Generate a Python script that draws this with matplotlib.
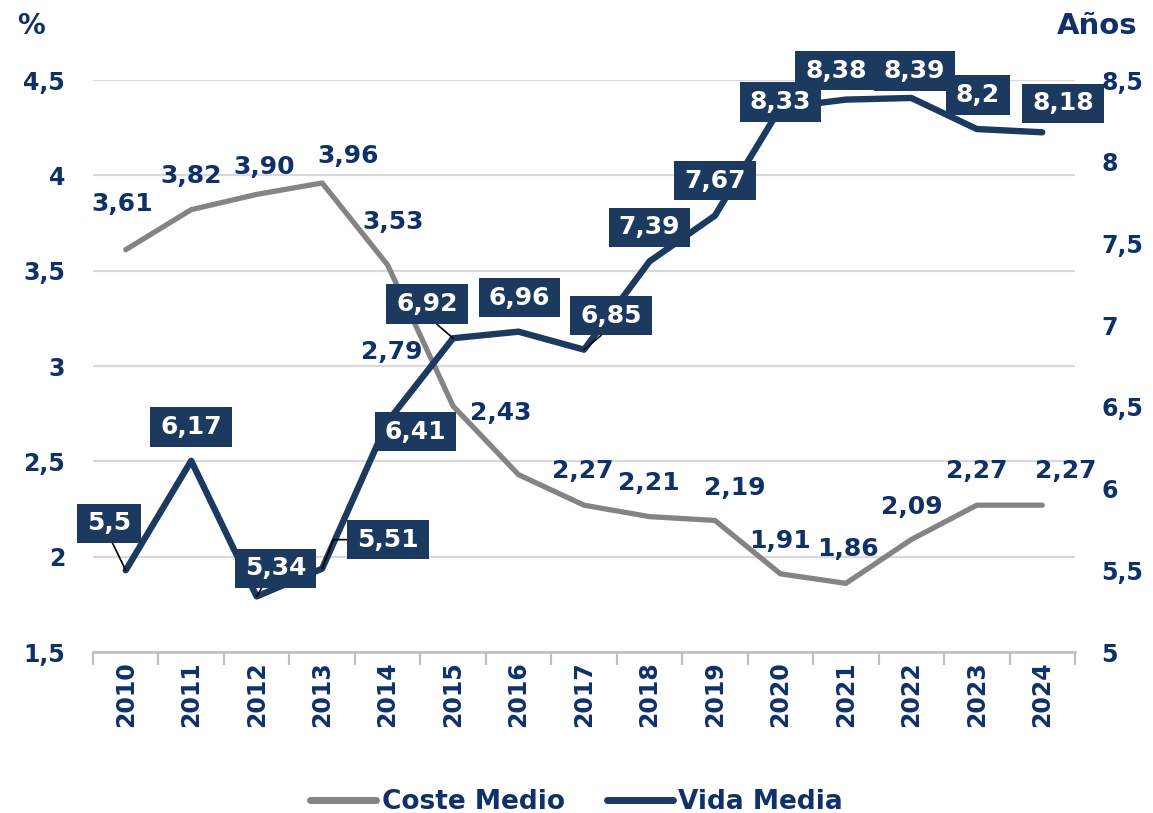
import matplotlib
matplotlib.use("Agg")
import matplotlib.pyplot as plt
from matplotlib.ticker import FuncFormatter, MultipleLocator
from matplotlib.lines import Line2D
from matplotlib.path import Path

# --- data -------------------------------------------------------------
years = ["2010", "2011", "2012", "2013", "2014", "2015", "2016", "2017",
         "2018", "2019", "2020", "2021", "2022", "2023", "2024"]
coste_medio = [3.61, 3.82, 3.90, 3.96, 3.53, 2.79, 2.43, 2.27,
               2.21, 2.19, 1.91, 1.86, 2.09, 2.27, 2.27]
vida_media = [5.5, 6.17, 5.34, 5.51, 6.41, 6.92, 6.96, 6.85,
              7.39, 7.67, 8.33, 8.38, 8.39, 8.2, 8.18]
series_names = ["Coste Medio", "Vida Media"]
left_unit = "%"
right_unit = "Años"

# --- style --------------------------------------------------------------
NAVY_TEXT = "#10306A"
NAVY_LINE = "#1C3A60"
NAVY_BOX = "#1C3A60"
GREY_LINE = "#848484"
GRID = "#D9D9D9"
AXIS = "#BFBFBF"
FONT = "DejaVu Sans"

plt.rcParams["font.family"] = [FONT]
plt.rcParams["font.weight"] = "bold"

# label offsets in pixels (dx, dy) relative to each point
coste_offsets = [(-4, 46), (0, 34), (8, 27), (26, 27), (6, 43), (-61, 54),
                 (-18, 62), (-1, 34), (-1, 34), (20, 32), (0, 33), (2, 34),
                 (0, 33), (0, 34), (23, 34)]
vida_offsets = [(-17, 47), (0, 34), (19, 28), (66, 29), (28, -10), (-26, 34),
                (1, 34), (27, 34), (0, 34), (0, 35), (0, 6), (-10, 29),
                (3, 27), (1, 34), (21, 29)]
# leader lines from label box to point
leaders = {
    0: dict(relpos=(0.5, 0.0)),
    2: dict(relpos=(0.34, 0.0)),
    3: dict(relpos=(0.0, 0.5), connectionstyle="angle,angleA=0,angleB=69,rad=0"),
    5: dict(relpos=(0.51, 0.0)),
    7: dict(relpos=(0.49, 0.0)),
}


def label_box(x0, y0, width, height, mutation_size):
    """Rectangle with separate horizontal / vertical padding."""
    px, py = 0.40 * mutation_size, 0.31 * mutation_size
    x1, y1 = x0 - px, y0 - py
    x2, y2 = x0 + width + px, y0 + height + py
    return Path([(x1, y1), (x2, y1), (x2, y2), (x1, y2), (x1, y1)],
                [Path.MOVETO, Path.LINETO, Path.LINETO, Path.LINETO,
                 Path.CLOSEPOLY])


W, H = 1153, 813
fig = plt.figure(figsize=(W / 100, H / 100), dpi=100)
left, right, top, bottom = 93, 1075, 80, 652
ax = fig.add_axes([left / W, 1 - bottom / H, (right - left) / W, (bottom - top) / H])
ax2 = ax.twinx()

x = list(range(len(years)))

ax.plot(x, coste_medio, color=GREY_LINE, lw=3.8,
        solid_capstyle="round", solid_joinstyle="round", zorder=2)
ax2.plot(x, vida_media, color=NAVY_LINE, lw=4.6,
         solid_capstyle="round", solid_joinstyle="round", zorder=2)

ax.set_xlim(-0.5, len(years) - 0.5)
ax.set_ylim(1.5, 4.5)
ax2.set_ylim(5.0, 8.5)

comma = FuncFormatter(lambda v, p: f"{v:g}".replace(".", ","))

for a in (ax, ax2):
    a.yaxis.set_major_locator(MultipleLocator(0.5))
    a.yaxis.set_major_formatter(comma)
    for s in ("top", "left", "right", "bottom"):
        a.spines[s].set_visible(False)

ax.tick_params(axis="y", length=0, pad=20, labelsize=17, labelcolor=NAVY_TEXT)
ax2.tick_params(axis="y", length=0, pad=19, labelsize=17, labelcolor=NAVY_TEXT)

# gridlines follow the left (%) scale
ax.yaxis.grid(True, color=GRID, lw=1.6)
ax.set_axisbelow(True)

# category axis with ticks between categories
ax.set_xticks(x)
ax.set_xticklabels(years, rotation=90, fontsize=17, color=NAVY_TEXT,
                   fontweight="bold")
ax.set_xticks([i - 0.5 for i in range(len(years) + 1)], minor=True)
ax.tick_params(axis="x", which="major", length=0, pad=7)
ax.tick_params(axis="x", which="minor", length=9, width=1.6, color=AXIS)
ax.spines["bottom"].set_visible(True)
ax.spines["bottom"].set_color(AXIS)
ax.spines["bottom"].set_linewidth(1.8)

# data labels: Coste Medio (plain text)
for i, (v, off) in enumerate(zip(coste_medio, coste_offsets)):
    ax2.annotate(f"{v:.2f}".replace(".", ","), xy=(i, v), xycoords=ax.transData,
                 xytext=off, textcoords="offset pixels", ha="center", va="center",
                 fontsize=18, fontweight="bold", color=NAVY_TEXT, zorder=5,
                 annotation_clip=False)

# data labels: Vida Media (white text on navy boxes)
for i, (v, off) in enumerate(zip(vida_media, vida_offsets)):
    kw = {}
    if i in leaders:
        ap = dict(arrowstyle="-", color="black", lw=1.2, shrinkA=0, shrinkB=0)
        ap.update(leaders[i])
        kw["arrowprops"] = ap
    ax2.annotate(f"{v:g}".replace(".", ","), xy=(i, v),
                 xycoords=ax2.transData, xytext=off, textcoords="offset pixels",
                 ha="center", va="center", fontsize=18, fontweight="bold",
                 color="white", zorder=6, annotation_clip=False,
                 bbox=dict(boxstyle=label_box, fc=NAVY_BOX, ec="none"),
                 **kw)

# unit captions
fig.text(17 / W, 1 - 26 / H, left_unit, ha="left", va="center", fontsize=20,
         fontweight="bold", color=NAVY_TEXT)
fig.text(1137 / W, 1 - 26 / H, right_unit, ha="right", va="center", fontsize=21,
         fontweight="bold", color=NAVY_TEXT)

# legend
handles = [Line2D([], [], color=GREY_LINE, lw=5, solid_capstyle="round"),
           Line2D([], [], color=NAVY_LINE, lw=5, solid_capstyle="round")]
leg = fig.legend(handles, series_names, loc="center", ncol=2,
                 bbox_to_anchor=(0.5, 1 - 802 / H), frameon=False,
                 prop=dict(family=FONT, weight="bold", size=19),
                 handlelength=2.5, handletextpad=0.2, columnspacing=1.6,
                 borderaxespad=0)
for t in leg.get_texts():
    t.set_color(NAVY_TEXT)

fig.savefig("out.png", dpi=100)
